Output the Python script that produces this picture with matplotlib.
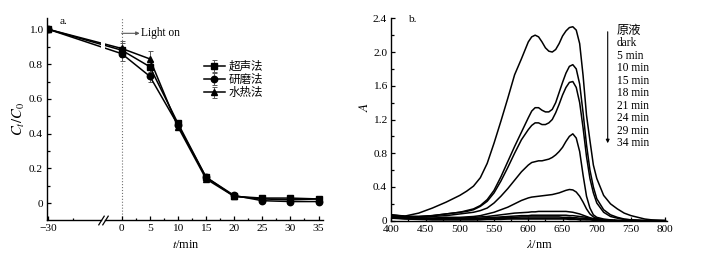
import numpy as np
import matplotlib
matplotlib.use('Agg')
import matplotlib.pyplot as plt
from matplotlib.ticker import FixedLocator, MultipleLocator, NullLocator

plt.rcParams['font.family'] = ['Liberation Serif', 'Noto Sans CJK SC']
plt.rcParams['mathtext.fontset'] = 'stix'
plt.rcParams['font.size'] = 8

# ---- panel a: C_t/C_0 vs time
t = [-30, 0, 5, 10, 15, 20, 25, 30, 35]
c_ultra = [1.0, 0.88, 0.785, 0.46, 0.15, 0.04, 0.03, 0.03, 0.025]
c_grind = [1.0, 0.86, 0.73, 0.45, 0.15, 0.045, 0.015, 0.01, 0.01]
c_hydro = [1.0, 0.89, 0.83, 0.44, 0.14, 0.04, 0.025, 0.02, 0.025]
err_ultra = [0, 0.04, 0.03, 0.02, 0.01, 0.01, 0.008, 0.008, 0.008]
err_grind = [0, 0.04, 0.035, 0.02, 0.01, 0.01, 0.008, 0.008, 0.008]
err_hydro = [0, 0.045, 0.045, 0.02, 0.01, 0.01, 0.008, 0.008, 0.008]
names_a = ['超声法', '研磨法', '水热法']

# ---- panel b: absorption spectra
wl = [400, 420, 440, 460, 480, 500, 510, 520, 530, 540, 550, 560, 570, 580, 590,
      600, 605, 610, 615, 620, 625, 630, 635, 640, 645, 650, 655, 660, 665, 670,
      675, 680, 685, 690, 695, 700, 710, 720, 730, 740, 750, 760, 770, 780, 790, 800]
a_stock = [0.07, 0.055, 0.09, 0.15, 0.22, 0.30, 0.35, 0.41, 0.51, 0.68,
           0.92, 1.18, 1.45, 1.73, 1.92, 2.12, 2.18, 2.20, 2.18, 2.12,
           2.05, 2.01, 2.00, 2.03, 2.10, 2.19, 2.25, 2.29, 2.30, 2.26,
           2.10, 1.72, 1.25, 0.95, 0.66, 0.50, 0.30, 0.20, 0.14, 0.09,
           0.06, 0.04, 0.02, 0.01, 0.005, 0.0]
a_dark = [0.06, 0.05, 0.05, 0.06, 0.08, 0.10, 0.12, 0.14, 0.18, 0.25,
          0.36, 0.52, 0.70, 0.88, 1.05, 1.22, 1.30, 1.34, 1.34, 1.31,
          1.29, 1.29, 1.32, 1.40, 1.52, 1.64, 1.75, 1.83, 1.85, 1.80,
          1.62, 1.28, 0.90, 0.60, 0.40, 0.26, 0.13, 0.07, 0.04, 0.02,
          0.01, 0.005, 0, 0, 0, 0]
a_5 = [0.07, 0.05, 0.05, 0.06, 0.08, 0.10, 0.11, 0.13, 0.17, 0.23,
       0.33, 0.47, 0.63, 0.80, 0.96, 1.08, 1.13, 1.16, 1.16, 1.14,
       1.14, 1.16, 1.20, 1.28, 1.38, 1.49, 1.58, 1.64, 1.65, 1.58,
       1.40, 1.10, 0.76, 0.50, 0.33, 0.21, 0.10, 0.05, 0.03, 0.015,
       0.01, 0.005, 0, 0, 0, 0]
a_10 = [0.06, 0.05, 0.04, 0.05, 0.06, 0.08, 0.09, 0.10, 0.12, 0.15,
        0.21, 0.29, 0.38, 0.48, 0.58, 0.66, 0.69, 0.70, 0.71, 0.71,
        0.72, 0.73, 0.75, 0.78, 0.82, 0.87, 0.94, 1.00, 1.03, 0.98,
        0.82, 0.54, 0.29, 0.15, 0.07, 0.04, 0.02, 0.01, 0.005, 0,
        0, 0, 0, 0, 0, 0]
a_15 = [0.05, 0.04, 0.03, 0.03, 0.04, 0.04, 0.045, 0.05, 0.06, 0.08,
        0.10, 0.13, 0.16, 0.20, 0.24, 0.27, 0.28, 0.285, 0.29, 0.295,
        0.30, 0.305, 0.31, 0.32, 0.33, 0.345, 0.36, 0.37, 0.365, 0.34,
        0.29, 0.22, 0.14, 0.08, 0.045, 0.025, 0.01, 0.005, 0, 0,
        0, 0, 0, 0, 0, 0]
a_18 = [0.05, 0.04, 0.03, 0.03, 0.03, 0.03, 0.035, 0.04, 0.045, 0.05,
        0.06, 0.07, 0.08, 0.09, 0.095, 0.10, 0.105, 0.105, 0.11, 0.11,
        0.11, 0.11, 0.11, 0.11, 0.11, 0.11, 0.11, 0.105, 0.10, 0.09,
        0.08, 0.065, 0.05, 0.035, 0.02, 0.01, 0.005, 0, 0, 0,
        0, 0, 0, 0, 0, 0]
a_21 = [0.045, 0.035, 0.03, 0.025, 0.025, 0.025, 0.025, 0.03, 0.03, 0.035,
        0.04, 0.045, 0.05, 0.055, 0.06, 0.06, 0.065, 0.065, 0.065, 0.065,
        0.065, 0.065, 0.065, 0.065, 0.065, 0.065, 0.065, 0.06, 0.06, 0.055,
        0.05, 0.045, 0.04, 0.03, 0.025, 0.02, 0.01, 0.005, 0, 0,
        0, 0, 0, 0, 0, 0]
a_24 = [0.04, 0.03, 0.025, 0.02, 0.02, 0.02, 0.02, 0.025, 0.025, 0.03,
        0.03, 0.035, 0.04, 0.04, 0.045, 0.045, 0.045, 0.045, 0.045, 0.045,
        0.045, 0.045, 0.045, 0.045, 0.045, 0.04, 0.04, 0.04, 0.035, 0.035,
        0.03, 0.03, 0.025, 0.02, 0.015, 0.01, 0.005, 0, 0, 0,
        0, 0, 0, 0, 0, 0]
a_29 = [0.035, 0.025, 0.02, 0.015, 0.015, 0.015, 0.015, 0.015, 0.02, 0.02,
        0.02, 0.025, 0.025, 0.03, 0.03, 0.03, 0.03, 0.03, 0.03, 0.03,
        0.03, 0.03, 0.03, 0.03, 0.03, 0.03, 0.025, 0.025, 0.025, 0.02,
        0.02, 0.02, 0.015, 0.015, 0.01, 0.005, 0, 0, 0, 0,
        0, 0, 0, 0, 0, 0]
a_34 = [0.03, 0.02, 0.015, 0.01, 0.01, 0.01, 0.01, 0.01, 0.01, 0.015,
        0.015, 0.015, 0.02, 0.02, 0.02, 0.02, 0.02, 0.02, 0.02, 0.02,
        0.02, 0.02, 0.02, 0.02, 0.02, 0.02, 0.02, 0.015, 0.015, 0.015,
        0.01, 0.01, 0.01, 0.01, 0.005, 0.005, 0, 0, 0, 0,
        0, 0, 0, 0, 0, 0]
labels_b = ['原液', 'dark', '5 min', '10 min', '15 min', '18 min',
            '21 min', '24 min', '29 min', '34 min']

W, H = 704, 259
fig = plt.figure(figsize=(W / 100, H / 100), dpi=100)

def fx(px):
    return px / W

def fy(py):
    return 1 - py / H

# compressed negative time axis
K = 13.06 / 30
def fwd(x):
    x = np.asarray(x, dtype=float)
    return np.where(x < 0, x * K, x)
def inv(y):
    y = np.asarray(y, dtype=float)
    return np.where(y < 0, y / K, y)

bot, top = fy(220), fy(18)
ax1 = fig.add_axes([fx(47), bot, fx(101) - fx(47), top - bot])
ax2 = fig.add_axes([fx(105), bot, fx(323) - fx(105), top - bot])

series = [(c_ultra, err_ultra, 's'), (c_grind, err_grind, 'o'), (c_hydro, err_hydro, '^')]
for ax in (ax1, ax2):
    ax.set_xscale('function', functions=(fwd, inv))
    for (c, e, m), nm in zip(series, names_a):
        ax.errorbar(t, c, yerr=e, marker=m, color='k', lw=1.1, ms=4.6,
                    ecolor='0.35', elinewidth=0.7, capsize=1.8, capthick=0.7, label=nm)
    ax.set_ylim(-0.096, 1.065)
    for s in ('top', 'right'):
        ax.spines[s].set_visible(False)
    for s in ax.spines.values():
        s.set_linewidth(1.0)
    ax.tick_params(which='both', direction='in', width=0.9, labelsize=8.2, pad=3)
    ax.tick_params(which='major', length=3)
    ax.tick_params(which='minor', length=1.8)

ax1.set_xlim(-30.55, -8.45)
ax1.xaxis.set_major_locator(FixedLocator([-30]))
ax1.xaxis.set_minor_locator(FixedLocator([-20]))
ax1.yaxis.set_minor_locator(MultipleLocator(0.1))
ax1.set_yticks([0, 0.2, 0.4, 0.6, 0.8, 1.0])
ax1.set_yticklabels(['0', '0.2', '0.4', '0.6', '0.8', '1.0'])

ax2.set_xlim(-6.82, 35.8)
ax2.xaxis.set_major_locator(FixedLocator([0, 5, 10, 15, 20, 25, 30, 35]))
ax2.xaxis.set_minor_locator(FixedLocator([2.5, 7.5, 12.5, 17.5, 22.5, 27.5, 32.5]))
ax2.spines['left'].set_visible(False)
ax2.yaxis.set_major_locator(NullLocator())
ax2.yaxis.set_minor_locator(NullLocator())
ax2.axvline(0, ls=':', color='0.45', lw=0.8, zorder=0)

# break marks
brk = dict(marker=[(-1, -1.6), (1, 1.6)], markersize=7, linestyle='none',
           color='k', mec='k', mew=0.9, clip_on=False)
ax1.plot([1], [0], transform=ax1.transAxes, **brk)
ax2.plot([0], [0], transform=ax2.transAxes, **brk)

ax2.annotate('', xy=(3.2, 0.977), xytext=(0, 0.977),
             arrowprops=dict(arrowstyle='-|>', color='0.35', lw=0.8, mutation_scale=5,
                             shrinkA=0, shrinkB=0))
ax2.text(3.4, 0.977, 'Light on', va='center', ha='left', fontsize=8.3)

ax2.legend(loc='upper left', bbox_to_anchor=(fx(204), fy(61)), bbox_transform=fig.transFigure,
           frameon=False, fontsize=8.3, handlelength=1.8, handletextpad=0.35,
           labelspacing=0.1, borderpad=0, borderaxespad=0)

fig.text(fx(64), fy(21), 'a.', ha='center', va='center', fontsize=8.2)
fig.text(fx(19), fy(119), '$C_t/C_0$', rotation=90, ha='center', va='center', fontsize=10.5)
fig.text(fx(186), fy(245), '$t$/min', ha='center', va='center', fontsize=8.8)

# ---- panel b
ax3 = fig.add_axes([fx(391.3), fy(220.7), fx(667) - fx(391.3), fy(18.3) - fy(220.7)])
spectra = [a_stock, a_dark, a_5, a_10, a_15, a_18, a_21, a_24, a_29, a_34]
for a in spectra:
    ax3.plot(wl, a, color='k', lw=1.1)
ax3.set_xlim(400, 802.5)
ax3.set_ylim(0, 2.4)
ax3.set_xticks([400, 450, 500, 550, 600, 650, 700, 750, 800])
ax3.xaxis.set_minor_locator(MultipleLocator(25))
ax3.set_yticks([0, 0.4, 0.8, 1.2, 1.6, 2.0, 2.4])
ax3.set_yticklabels(['0', '0.4', '0.8', '1.2', '1.6', '2.0', '2.4'])
ax3.yaxis.set_minor_locator(MultipleLocator(0.2))
for s in ('top', 'right'):
    ax3.spines[s].set_visible(False)
for s in ax3.spines.values():
    s.set_linewidth(1.0)
ax3.tick_params(which='both', direction='in', width=0.9, labelsize=8.2, pad=3)
ax3.tick_params(which='major', length=3)
ax3.tick_params(which='minor', length=1.8)

fig.text(fx(412), fy(19), 'b.', ha='center', va='center', fontsize=8.2)
fig.text(fx(364), fy(107), '$A$', rotation=90, ha='center', va='center', fontsize=9.5)
fig.text(fx(539), fy(245), '$\\lambda$/nm', ha='center', va='center', fontsize=8.8)

for i, lab in enumerate(labels_b):
    fig.text(fx(617), fy(31 + i * 12.47), lab, ha='left', va='center',
             fontsize=8.8 if i == 0 else 8.3)
fig.add_artist(matplotlib.patches.FancyArrowPatch(
    (fx(607.7), fy(29)), (fx(607.7), fy(146)), transform=fig.transFigure,
    arrowstyle='-|>', mutation_scale=5, color='k', lw=0.8))

fig.savefig('out.png', dpi=100)
